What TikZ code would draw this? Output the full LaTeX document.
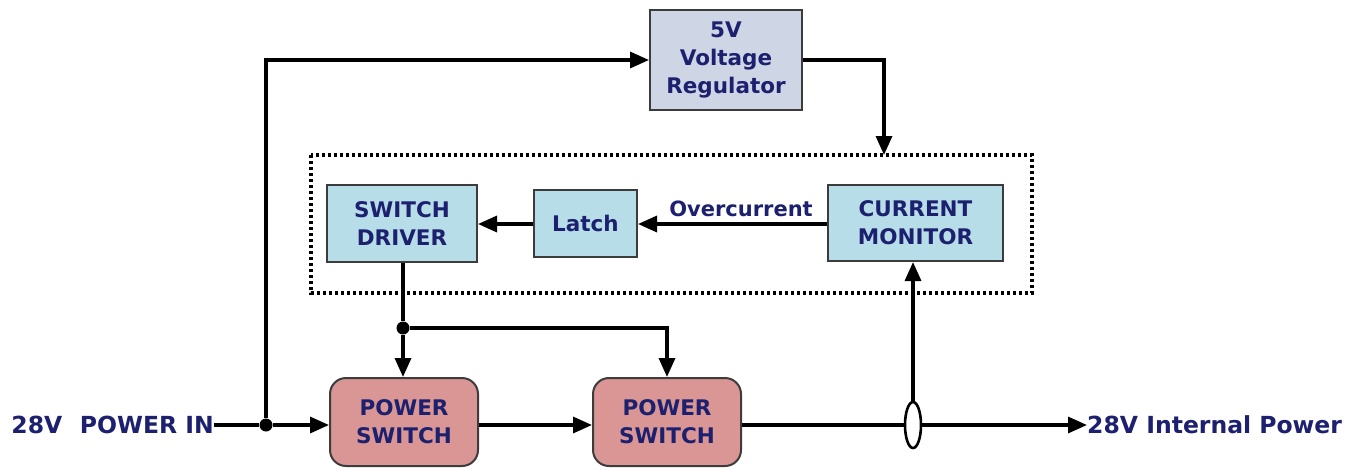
\documentclass[tikz,border=0pt]{standalone}
\usepackage{fontspec}
\setmainfont{DejaVu Sans}
\usetikzlibrary{arrows.meta,shapes.geometric}
\definecolor{txt}{RGB}{28,32,110}
\definecolor{regfill}{RGB}{206,214,230}
\definecolor{bluefill}{RGB}{183,221,232}
\definecolor{pinkfill}{RGB}{217,150,148}
\definecolor{edge}{RGB}{60,60,60}
\tikzset{
  blk/.style={draw=edge,line width=2pt,text=txt,font=\fontsize{21.5}{28}\selectfont\bfseries,align=center,inner sep=0pt},
  conn/.style={line width=3.3pt,-{Triangle[length=19pt,width=16pt]}},
  wire/.style={line width=3.3pt},
  lbl/.style={text=txt,font=\fontsize{23.5}{28}\selectfont\bfseries,inner sep=0pt},
  jdot/.style={circle,fill=black,minimum size=13pt,inner sep=0pt}
}
\begin{document}
\begin{tikzpicture}[x=1pt,y=-1pt]
\useasboundingbox (0,0) rectangle (1351,469);
% blocks
\node[blk,fill=regfill,minimum width=152pt,minimum height=100pt] (reg) at (726,60) {5V\\Voltage\\Regulator};
\draw[line width=3.3pt,dash pattern=on 3pt off 3pt] (311,155) rectangle (1032,293);
\coordinate (dtop) at (884,155);
\node[blk,fill=bluefill,minimum width=150pt,minimum height=77pt] (drv) at (402,223.5) {SWITCH\\DRIVER};
\node[blk,fill=bluefill,minimum width=103pt,minimum height=67pt] (latch) at (585.5,223.5) {Latch};
\node[blk,fill=bluefill,minimum width=175pt,minimum height=76pt] (mon) at (915.5,223) {CURRENT\\MONITOR};
\node[blk,fill=pinkfill,rounded corners=16pt,minimum width=148pt,minimum height=88pt] (ps1) at (404,422) {POWER\\SWITCH};
\node[blk,fill=pinkfill,rounded corners=16pt,minimum width=148pt,minimum height=88pt] (ps2) at (667,422) {POWER\\SWITCH};
% labels
\node[lbl,anchor=east] (in) at (214,425) {28V\hspace{0.4em} POWER IN};
\node[lbl,anchor=west] (out) at (1087,425) {28V Internal Power};
\node[lbl,font=\fontsize{21}{26}\selectfont\bfseries] (oc) at (741,209) {Overcurrent};
% junctions
\node[jdot] (j1) at (266,425) {};
\node[jdot] (j2) at (403,328) {};
\node[draw=black,line width=2.6pt,ellipse,minimum width=16pt,minimum height=46pt,inner sep=0pt] (sense) at (913,425) {};
% connectors
\draw[wire] (in.east) -- (j1);
\draw[conn] (j1) -- (ps1.west |- j1);
\draw[conn] (j1) |- (reg.west);
\draw[conn] (reg.east) -| (dtop);
\draw[conn] (mon.west |- 0,224) -- (latch.east |- 0,224);
\draw[conn] (latch.west |- 0,224) -- (drv.east |- 0,224);
\draw[wire] (drv.south -| j2) -- (j2);
\draw[conn] (j2) -- (j2 |- ps1.north);
\draw[conn] (j2) -| (ps2.north);
\draw[conn] (ps1.east |- 0,425) -- (ps2.west |- 0,425);
\draw[wire] (ps2.east |- 0,425) -- (sense.west);
\draw[conn] (sense.east) -- (out.west);
\draw[conn] (sense.north) -- (sense.north |- mon.south);
\end{tikzpicture}
\end{document}
